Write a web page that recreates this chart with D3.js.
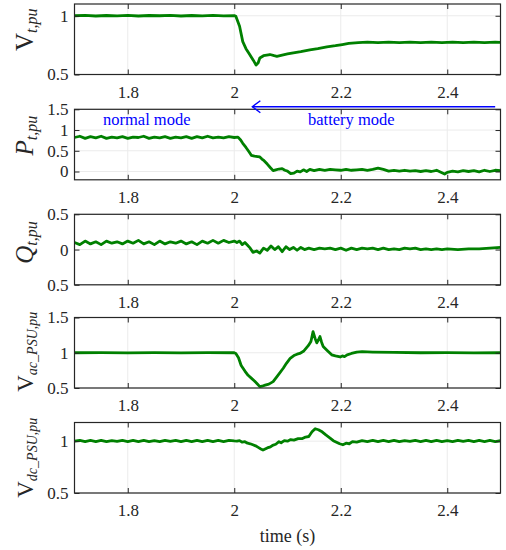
<!DOCTYPE html>
<html>
<head>
<meta charset="utf-8">
<script src="https://cdn.jsdelivr.net/npm/d3@7"></script>
<style>
    body { margin: 0; background: #fff; }
</style>
</head>
<body>
<div id="wrapper"></div>
<script>
// ---- data ----
const xTicks = [1.8, 2, 2.2, 2.4]
const xTickLabels = ["1.8", "2", "2.2", "2.4"]

const vtTicks = [0.5, 1]
const vtTickLabels = ["0.5", "1"]
const ptTicks = [0, 0.5, 1, 1.5]
const ptTickLabels = ["0", "0.5", "1", "1.5"]
const qtTicks = [-0.5, 0, 0.5]
const qtTickLabels = ["0.5", "0", "0.5"]
const vacTicks = [0.5, 1, 1.5]
const vacTickLabels = ["0.5", "1", "1.5"]
const vdcTicks = [0.5, 1]
const vdcTickLabels = ["0.5", "1"]

const vtData = [
    [1.70,1.000],[1.72,1.003],[1.74,0.998],[1.76,1.002],[1.78,0.999],[1.80,1.003],[1.82,0.998],[1.84,1.002],
    [1.86,1.000],[1.88,1.003],[1.90,0.998],[1.92,1.002],[1.94,0.999],[1.96,1.003],[1.98,0.999],[2.00,1.001],
    [2.003,0.995],[2.010,0.91],[2.016,0.78],[2.022,0.72],[2.029,0.67],[2.036,0.62],[2.041,0.58],[2.045,0.60],
    [2.048,0.64],[2.055,0.66],[2.067,0.67],[2.075,0.66],[2.080,0.655],[2.090,0.665],[2.100,0.675],[2.111,0.685],
    [2.125,0.695],[2.142,0.71],[2.157,0.72],[2.174,0.735],[2.190,0.745],[2.203,0.755],[2.215,0.765],[2.233,0.772],
    [2.25,0.775],[2.27,0.771],[2.29,0.775],[2.31,0.772],[2.33,0.776],[2.35,0.772],[2.37,0.775],[2.39,0.771],
    [2.41,0.775],[2.43,0.772],[2.45,0.775],[2.47,0.772],[2.49,0.775],[2.50,0.773]
]

const ptData = [
    [1.70,0.82],[1.71,0.85],[1.72,0.80],[1.73,0.84],[1.74,0.81],[1.75,0.85],[1.76,0.80],[1.77,0.83],
    [1.78,0.81],[1.79,0.84],[1.80,0.80],[1.81,0.83],[1.82,0.82],[1.83,0.85],[1.84,0.80],[1.85,0.83],
    [1.86,0.81],[1.87,0.84],[1.88,0.80],[1.89,0.83],[1.90,0.81],[1.91,0.84],[1.92,0.80],[1.93,0.84],
    [1.94,0.81],[1.95,0.85],[1.96,0.81],[1.97,0.83],[1.98,0.81],[1.99,0.84],[2.00,0.82],
    [2.007,0.83],[2.012,0.76],[2.016,0.68],[2.022,0.58],[2.028,0.47],[2.032,0.39],[2.038,0.37],[2.044,0.36],
    [2.048,0.35],[2.052,0.30],[2.056,0.26],[2.062,0.18],[2.068,0.09],[2.073,0.02],[2.078,0.04],[2.084,0.06],
    [2.090,0.07],[2.095,0.03],[2.100,0.01],[2.106,-0.05],[2.112,-0.04],[2.118,0.01],[2.124,-0.01],[2.130,0.04],
    [2.136,0.00],[2.142,0.05],[2.15,0.02],[2.16,0.05],[2.17,0.03],[2.18,0.05],[2.19,0.04],[2.20,0.03],
    [2.21,0.05],[2.22,0.03],[2.23,0.04],[2.24,0.05],[2.25,0.03],[2.26,0.05],[2.27,0.08],[2.28,0.05],
    [2.29,0.01],[2.30,0.03],[2.31,0.01],[2.32,0.03],[2.33,0.01],[2.34,0.02],[2.35,0.00],[2.36,0.02],
    [2.37,0.00],[2.38,0.03],[2.39,-0.03],[2.395,-0.06],[2.40,-0.02],[2.41,0.01],[2.42,-0.01],[2.43,0.02],
    [2.44,0.00],[2.45,0.02],[2.46,-0.01],[2.47,0.03],[2.48,0.00],[2.49,0.03],[2.50,0.02]
]

const qtData = [
    [1.70,0.10],[1.71,0.07],[1.72,0.12],[1.73,0.08],[1.74,0.11],[1.75,0.07],[1.76,0.12],[1.77,0.09],
    [1.78,0.11],[1.79,0.08],[1.80,0.12],[1.81,0.09],[1.82,0.13],[1.83,0.08],[1.84,0.11],[1.85,0.07],
    [1.86,0.12],[1.87,0.08],[1.88,0.11],[1.89,0.09],[1.90,0.12],[1.91,0.08],[1.92,0.11],[1.93,0.07],
    [1.94,0.12],[1.95,0.09],[1.96,0.13],[1.97,0.09],[1.98,0.13],[1.99,0.10],[2.00,0.12],
    [2.005,0.10],[2.010,0.12],[2.015,0.07],[2.020,0.10],[2.025,0.06],[2.030,0.02],[2.035,-0.04],[2.042,-0.02],
    [2.048,-0.05],[2.055,0.02],[2.062,-0.01],[2.069,0.05],[2.076,0.00],[2.083,0.04],[2.090,-0.03],
    [2.097,0.04],[2.104,0.00],[2.111,0.03],[2.118,-0.01],[2.125,0.03],[2.132,0.00],[2.14,0.02],
    [2.15,0.00],[2.16,0.02],[2.17,0.01],[2.18,0.02],[2.19,0.00],[2.20,0.02],[2.21,-0.01],
    [2.22,0.02],[2.23,0.00],[2.24,0.02],[2.25,0.01],[2.26,0.02],[2.27,0.00],[2.28,0.02],[2.29,0.00],
    [2.30,0.01],[2.31,0.00],[2.32,0.02],[2.33,0.01],[2.34,0.02],[2.35,0.00],[2.36,0.01],[2.37,0.00],
    [2.38,0.01],[2.39,0.00],[2.40,0.01],[2.42,0.00],[2.44,0.01],[2.46,0.01],[2.48,0.02],[2.50,0.03]
]

const vacData = [
    [1.70,1.000],[1.75,1.003],[1.80,0.998],[1.85,1.002],[1.90,0.999],[1.95,1.002],[2.00,1.000],
    [2.003,0.99],[2.008,0.93],[2.013,0.82],[2.020,0.74],[2.026,0.68],[2.032,0.64],[2.038,0.60],[2.043,0.56],
    [2.048,0.52],[2.052,0.525],[2.058,0.54],[2.065,0.555],[2.073,0.59],[2.082,0.68],[2.092,0.78],[2.098,0.85],
    [2.105,0.92],[2.112,0.96],[2.118,0.98],[2.123,0.99],[2.130,1.02],[2.139,1.10],[2.144,1.16],[2.148,1.30],
    [2.152,1.20],[2.155,1.14],[2.158,1.18],[2.161,1.23],[2.164,1.15],[2.167,1.09],[2.175,1.03],[2.183,0.97],
    [2.190,0.955],[2.199,0.94],[2.203,0.955],[2.207,0.945],[2.212,0.97],[2.220,0.99],[2.230,1.01],[2.240,1.015],
    [2.26,1.01],[2.30,1.005],[2.35,1.000],[2.40,1.002],[2.45,0.999],[2.50,1.000]
]

const vdcData = [
    [1.70,1.000],[1.71,1.008],[1.72,0.995],[1.73,1.007],[1.74,0.996],[1.75,1.008],[1.76,0.995],[1.77,1.006],
    [1.78,0.997],[1.79,1.008],[1.80,0.996],[1.81,1.007],[1.82,0.995],[1.83,1.008],[1.84,0.996],[1.85,1.006],
    [1.86,0.995],[1.87,1.008],[1.88,0.997],[1.89,1.007],[1.90,0.995],[1.91,1.008],[1.92,0.996],[1.93,1.007],
    [1.94,0.995],[1.95,1.008],[1.96,0.996],[1.97,1.007],[1.98,0.996],[1.99,1.008],[2.00,1.002],
    [2.005,1.000],[2.010,1.005],[2.015,0.990],[2.020,0.995],[2.025,0.980],[2.030,0.975],[2.035,0.965],[2.040,0.955],
    [2.045,0.940],[2.050,0.925],[2.054,0.915],[2.058,0.925],[2.062,0.935],[2.068,0.945],[2.072,0.960],[2.078,0.970],
    [2.084,0.995],[2.088,0.985],[2.094,1.005],[2.100,1.000],[2.106,1.015],[2.112,1.010],[2.120,1.025],[2.128,1.025],
    [2.134,1.040],[2.140,1.045],[2.146,1.090],[2.152,1.120],[2.158,1.110],[2.165,1.090],[2.172,1.060],[2.180,1.030],
    [2.186,1.005],[2.192,0.990],[2.198,0.975],[2.204,0.965],[2.210,0.980],[2.216,0.975],[2.222,0.995],[2.230,0.990],
    [2.24,1.005],[2.25,0.996],[2.26,1.008],[2.27,0.995],[2.28,1.007],[2.29,0.996],[2.30,1.008],[2.31,0.995],
    [2.32,1.006],[2.33,0.997],[2.34,1.008],[2.35,0.996],[2.36,1.007],[2.37,0.995],[2.38,1.008],[2.39,0.996],
    [2.40,1.006],[2.41,0.995],[2.42,1.008],[2.43,0.997],[2.44,1.007],[2.45,0.995],[2.46,1.008],[2.47,0.996],
    [2.48,1.007],[2.49,0.995],[2.50,1.004]
]

// ---- layout ----
const serif = "'Liberation Serif', Tinos, 'Times New Roman', 'DejaVu Serif', serif"

const dimensions = {
    width: 506,
    height: 550,
    left: 74.5,
    right: 500.5,
    panelHeight: 70.5,
}

const panels = [
    { data: vtData, domain: [0.5, 1.1], ticks: vtTicks, labels: vtTickLabels, top: 4,
      main: "V", mainItalic: false, sub: "t,pu", mainSize: 25, subSize: 16, labelShift: -9.5 },
    { data: ptData, domain: [-0.2, 1.5], ticks: ptTicks, labels: ptTickLabels, top: 109.3,
      main: "P", mainItalic: true, sub: "t,pu", mainSize: 25, subSize: 16, labelShift: -9 },
    { data: qtData, domain: [-0.5, 0.5], ticks: qtTicks, labels: qtTickLabels, top: 214.3,
      main: "Q", mainItalic: true, sub: "t,pu", mainSize: 25, subSize: 16, labelShift: -7 },
    { data: vacData, domain: [0.5, 1.5], ticks: vacTicks, labels: vacTickLabels, top: 317.5,
      main: "V", mainItalic: false, sub: "ac_PSU,pu", mainSize: 23, subSize: 14, labelShift: -1 },
    { data: vdcData, domain: [0.5, 1.18], ticks: vdcTicks, labels: vdcTickLabels, top: 422.5,
      main: "V", mainItalic: false, sub: "dc_PSU,pu", mainSize: 23, subSize: 14, labelShift: 0 },
]

const lineColor = "#008000"
const axisColor = "#262626"
const gridColor = "#ebebeb"

const svg = d3.select("#wrapper")
    .append("svg")
    .attr("width", dimensions.width)
    .attr("height", dimensions.height)
    .attr("font-family", serif)

const xScaler = d3.scaleLinear()
    .domain([1.7, 2.5])
    .range([dimensions.left, dimensions.right])

panels.forEach((p, i) => {
    const top = p.top
    const bottom = p.top + dimensions.panelHeight
    const yScaler = d3.scaleLinear()
        .domain(p.domain)
        .range([bottom, top])

    const g = svg.append("g")

    // grid
    g.append("g").selectAll("line")
        .data(xTicks)
        .enter().append("line")
        .attr("x1", d => xScaler(d)).attr("x2", d => xScaler(d))
        .attr("y1", top).attr("y2", bottom)
        .attr("stroke", gridColor)
    g.append("g").selectAll("line")
        .data(p.ticks)
        .enter().append("line")
        .attr("x1", dimensions.left).attr("x2", dimensions.right)
        .attr("y1", d => yScaler(d)).attr("y2", d => yScaler(d))
        .attr("stroke", gridColor)

    // data line
    g.append("clipPath").attr("id", "clip" + i)
        .append("rect")
        .attr("x", dimensions.left).attr("y", top)
        .attr("width", dimensions.right - dimensions.left)
        .attr("height", dimensions.panelHeight)

    const lineGen = d3.line()
        .x(d => xScaler(d[0]))
        .y(d => yScaler(d[1]))
    g.append("path")
        .datum(p.data)
        .attr("clip-path", `url(#clip${i})`)
        .attr("d", lineGen)
        .attr("fill", "none")
        .attr("stroke", lineColor)
        .attr("stroke-width", 2.8)
        .attr("stroke-linejoin", "round")

    // axes, ticks inside on all four sides
    g.append("g")
        .attr("transform", `translate(0,${bottom})`)
        .call(d3.axisBottom(xScaler).tickValues(xTicks)
            .tickFormat((d, k) => xTickLabels[k])
            .tickSizeInner(-5).tickSizeOuter(0).tickPadding(11))
    g.append("g")
        .attr("transform", `translate(0,${top})`)
        .call(d3.axisTop(xScaler).tickValues(xTicks).tickFormat("")
            .tickSizeInner(-5).tickSizeOuter(0))
    g.append("g")
        .attr("transform", `translate(${dimensions.left},0)`)
        .call(d3.axisLeft(yScaler).tickValues(p.ticks)
            .tickFormat((d, k) => p.labels[k])
            .tickSizeInner(-5).tickSizeOuter(0).tickPadding(6))
    g.append("g")
        .attr("transform", `translate(${dimensions.right},0)`)
        .call(d3.axisRight(yScaler).tickValues(p.ticks).tickFormat("")
            .tickSizeInner(-5).tickSizeOuter(0))

    g.selectAll(".domain").remove()
    g.selectAll("g").attr("font-family", serif)
    g.selectAll(".tick line").attr("stroke", axisColor)
    g.selectAll(".tick text")
        .attr("fill", axisColor)
        .attr("font-family", serif)
        .attr("font-size", "17px")

    g.append("rect")
        .attr("x", dimensions.left).attr("y", top)
        .attr("width", dimensions.right - dimensions.left)
        .attr("height", dimensions.panelHeight)
        .attr("fill", "none")
        .attr("stroke", axisColor)
        .attr("stroke-width", 1.2)

    // y label
    const yLabel = g.append("text")
        .attr("transform", `translate(33,${(top + bottom) / 2 + p.labelShift}) rotate(-90)`)
        .attr("text-anchor", "middle")
        .attr("font-family", serif)
        .attr("fill", axisColor)
    yLabel.append("tspan")
        .attr("font-size", p.mainSize + "px")
        .attr("font-style", p.mainItalic ? "italic" : "normal")
        .text(p.main)
    yLabel.append("tspan")
        .attr("font-size", p.subSize + "px")
        .attr("font-style", "italic")
        .attr("dy", 4)
        .text(p.sub)
})

// mode annotations on the second panel
svg.append("text")
    .attr("x", 103).attr("y", 124.5)
    .attr("fill", "#0000ff")
    .attr("font-family", serif)
    .attr("font-size", "16.5px")
    .text("normal mode")
svg.append("text")
    .attr("x", 308).attr("y", 124.5)
    .attr("fill", "#0000ff")
    .attr("font-family", serif)
    .attr("font-size", "16.5px")
    .text("battery mode")

const arrowY = 106.7
svg.append("line")
    .attr("x1", xScaler(2.49)).attr("x2", xScaler(2.034))
    .attr("y1", arrowY).attr("y2", arrowY)
    .attr("stroke", "#0000ff").attr("stroke-width", 1.4)
svg.append("path")
    .attr("d", `M${xScaler(2.034) + 8},${arrowY - 6} L${xScaler(2.034)},${arrowY} L${xScaler(2.034) + 8},${arrowY + 6}`)
    .attr("fill", "none")
    .attr("stroke", "#0000ff").attr("stroke-width", 1.4)

// x axis title
svg.append("text")
    .attr("x", (dimensions.left + dimensions.right) / 2)
    .attr("y", 542)
    .attr("text-anchor", "middle")
    .attr("font-family", serif)
    .attr("fill", axisColor)
    .attr("font-size", "18px")
    .text("time (s)")
</script>
</body>
</html>
